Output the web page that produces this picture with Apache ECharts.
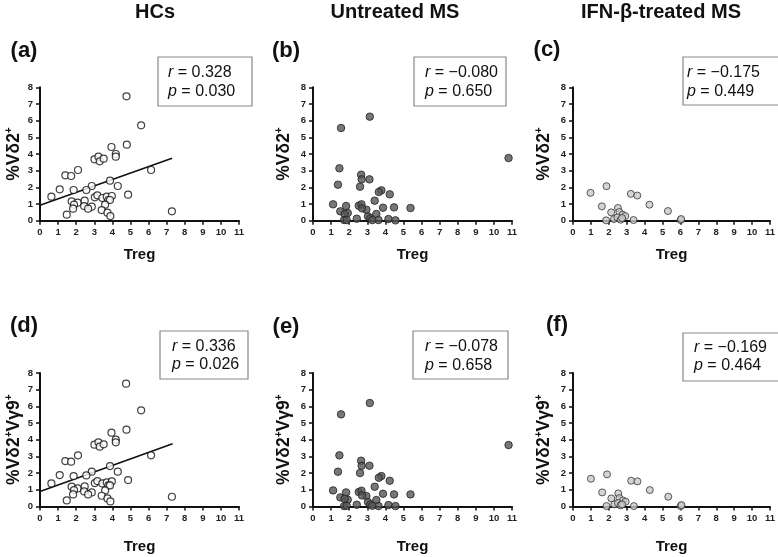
<!DOCTYPE html>
<html><head><meta charset="utf-8">
<script src="https://cdn.jsdelivr.net/npm/echarts@6/dist/echarts.min.js"></script>
<style>html,body{margin:0;padding:0;background:#fff}#c{width:778px;height:557px}</style>
</head><body><div id="c"></div>
<script>
// ---- data ----
const xTicks = [0,1,2,3,4,5,6,7,8,9,10,11];
const yTicks = [0,1,2,3,4,5,6,7,8];
const groups = ['HCs', 'Untreated MS', 'IFN-β-treated MS'];
const panelLabels = ['(a)','(b)','(c)','(d)','(e)','(f)'];

// (a) HCs: Treg vs %Vδ2+
const aTreg = [4.78,5.59,4.80,3.95,4.19,4.19,3.01,3.23,3.30,3.52,6.14,2.10,1.40,1.72,3.87,1.09,1.86,2.86,2.56,4.30,0.63,4.87,3.03,3.17,3.45,3.69,3.97,3.78,3.87,1.75,2.08,2.47,1.88,2.44,2.86,2.66,1.83,3.60,3.41,3.73,3.89,1.48,7.29];
const aVd2 = [7.46,5.72,4.56,4.42,4.00,3.84,3.68,3.84,3.56,3.72,3.04,3.04,2.72,2.68,2.40,1.88,1.84,2.08,1.84,2.08,1.44,1.56,1.40,1.52,1.36,1.44,1.48,1.24,1.24,1.16,1.08,1.20,0.96,0.88,0.84,0.72,0.72,0.96,0.64,0.48,0.28,0.36,0.56];
const aFitX = [0, 7.3];
const aFitY = [0.92, 3.74];

// (b) Untreated MS: Treg vs %Vδ2+
const bTreg = [3.14,1.55,10.81,1.46,1.38,2.66,2.69,3.12,2.60,3.78,3.64,4.24,3.41,1.11,2.53,2.68,1.83,3.87,4.48,5.39,2.95,2.71,1.51,1.92,1.75,3.50,3.04,3.17,2.42,1.72,1.86,3.62,4.17,4.56,3.28];
const bVd2 = [6.24,5.56,3.76,3.14,2.16,2.76,2.48,2.48,2.04,1.82,1.72,1.58,1.20,0.98,0.90,0.98,0.88,0.78,0.80,0.76,0.66,0.74,0.56,0.46,0.40,0.40,0.26,0.14,0.12,0.04,0.04,0.04,0.10,0.02,0.04];

// (c) IFN-β-treated MS: Treg vs %Vδ2+
const cTreg = [0.98,1.87,3.23,3.59,4.27,1.61,5.30,2.13,2.51,2.59,2.77,2.92,2.29,2.48,2.66,1.85,3.38,6.01,6.04,2.74];
const cVd2 = [1.67,2.07,1.61,1.51,0.96,0.86,0.58,0.50,0.76,0.52,0.36,0.28,0.10,0.20,0.06,0.02,0.04,0.04,0.10,0.16];

// (d) HCs: Treg vs %Vδ2+Vγ9+
const dTreg = [4.76,5.59,4.78,3.95,4.19,4.19,3.01,3.23,3.30,3.52,6.14,2.10,1.40,1.72,3.87,1.09,1.86,2.86,2.56,4.30,0.63,4.87,3.03,3.17,3.45,3.69,3.97,3.78,3.87,1.75,2.08,2.47,1.88,2.44,2.86,2.66,1.83,3.60,3.41,3.73,3.89,1.48,7.29];
const dVd2Vg9 = [7.36,5.76,4.60,4.42,4.00,3.84,3.70,3.84,3.58,3.72,3.06,3.06,2.72,2.68,2.42,1.88,1.82,2.08,1.86,2.08,1.38,1.58,1.40,1.52,1.38,1.44,1.50,1.26,1.26,1.18,1.08,1.20,0.98,0.90,0.84,0.72,0.72,0.96,0.64,0.48,0.30,0.36,0.58];
const dFitX = [0, 7.33];
const dFitY = [0.90, 3.76];

// (e) Untreated MS: Treg vs %Vδ2+Vγ9+
const eTreg = [3.14,1.55,10.81,1.46,1.38,2.66,2.69,3.12,2.60,3.78,3.64,4.24,3.41,1.11,2.53,2.68,1.83,3.87,4.48,5.39,2.95,2.71,1.51,1.92,1.75,3.50,3.04,3.17,2.42,1.72,1.86,3.62,4.17,4.56,3.28];
const eVd2Vg9 = [6.20,5.52,3.68,3.06,2.08,2.74,2.44,2.44,2.00,1.82,1.72,1.54,1.18,0.96,0.86,0.94,0.84,0.76,0.72,0.72,0.62,0.66,0.54,0.40,0.46,0.38,0.26,0.12,0.10,0.02,0.04,0.02,0.08,0.02,0.04];

// (f) IFN-β-treated MS: Treg vs %Vδ2+Vγ9+
const fTreg = [1.00,1.90,3.25,3.60,4.29,1.63,5.32,2.14,2.53,2.59,2.79,2.94,2.31,2.51,2.66,1.87,3.40,6.01,6.06,2.74];
const fVd2Vg9 = [1.66,1.92,1.54,1.50,0.98,0.84,0.58,0.48,0.78,0.50,0.36,0.28,0.12,0.20,0.06,0.02,0.02,0.02,0.08,0.12];

const rValues = ['0.328', '−0.080', '−0.175', '0.336', '−0.078', '−0.169'];
const pValues = ['0.030', '0.650', '0.449', '0.026', '0.658', '0.464'];

// ---- layout / style ----
const FONT = "'Liberation Sans', Arial, sans-serif";
const colLeft = [40, 313, 573];
const rowTop = [87.3, 373];
const GW = 199, GH = 133.4;
const zip = (xs, ys) => xs.map((x, i) => [x, ys[i]]);

const panels = [
  {x: aTreg, y: aVd2, fit: [aFitX, aFitY], kind: 0, row: 0},
  {x: bTreg, y: bVd2, kind: 1, row: 0},
  {x: cTreg, y: cVd2, kind: 2, row: 0},
  {x: dTreg, y: dVd2Vg9, fit: [dFitX, dFitY], kind: 0, row: 1},
  {x: eTreg, y: eVd2Vg9, kind: 1, row: 1},
  {x: fTreg, y: fVd2Vg9, kind: 2, row: 1}
];
const markerStyle = [
  {color: '#ffffff', borderColor: '#111', borderWidth: 1.2},
  {color: '#555555', borderColor: '#222', borderWidth: 1},
  {color: '#c9c9c9', borderColor: '#333', borderWidth: 1}
];
const yNames = ['{m|%Vδ2}{s|+}', '{m|%Vδ2}{s|+}{m|Vγ9}{s|+}'];

const grid = [], xAxis = [], yAxis = [], series = [];
panels.forEach((p, i) => {
  const col = i % 3;
  grid.push({left: colLeft[col], top: rowTop[p.row], width: GW, height: GH});
  xAxis.push({
    type: 'value', gridIndex: i, min: xTicks[0], max: xTicks[xTicks.length-1], interval: 1,
    name: 'Treg', nameLocation: 'middle', nameGap: p.row === 0 ? 27 : 33,
    nameTextStyle: {fontFamily: FONT, fontWeight: 'bold', fontSize: 15, color: '#111'},
    axisLine: {show: true, onZero: false, lineStyle: {color: '#111', width: 2}},
    axisTick: {show: true, length: 4, lineStyle: {color: '#111', width: 1.5}},
    axisLabel: {fontFamily: FONT, fontWeight: 'bold', fontSize: 9.5, color: '#222', margin: 7},
    splitLine: {show: false}
  });
  yAxis.push({
    type: 'value', gridIndex: i, min: yTicks[0], max: yTicks[yTicks.length-1], interval: 1,
    name: yNames[p.row], nameLocation: 'middle', nameRotate: 90,
    nameGap: col === 0 ? 16 : 19,
    nameTextStyle: {fontFamily: FONT, color: '#111',
      rich: {
        m: {fontFamily: FONT, fontWeight: 'bold', fontSize: 17.5, color: '#111', lineHeight: 20},
        s: {fontFamily: FONT, fontWeight: 'bold', fontSize: 10, color: '#111', lineHeight: 20, verticalAlign: 'top'}
      }},
    axisLine: {show: true, onZero: false, lineStyle: {color: '#111', width: 2}},
    axisTick: {show: true, length: 4, lineStyle: {color: '#111', width: 1.5}},
    axisLabel: {fontFamily: FONT, fontWeight: 'bold', fontSize: 9.5, color: '#222', margin: 7},
    splitLine: {show: false}
  });
  series.push({
    type: 'scatter', xAxisIndex: i, yAxisIndex: i, symbol: 'circle',
    symbolSize: p.kind === 1 ? 7.5 : 7,
    itemStyle: markerStyle[p.kind], data: zip(p.x, p.y), z: 3, silent: true
  });
  if (p.fit) {
    series.push({
      type: 'line', xAxisIndex: i, yAxisIndex: i, symbol: 'none',
      lineStyle: {color: '#111', width: 1.6}, data: zip(p.fit[0], p.fit[1]), z: 2, silent: true
    });
  }
});

// annotations (titles, panel letters, stat boxes)
const graphic = [];
const titleCenters = [[155, 12], [395, 12], [661, 12]];
groups.forEach((g, k) => graphic.push({
  type: 'text', x: titleCenters[k][0], y: titleCenters[k][1],
  style: {text: g, font: `bold 20px ${FONT}`, fill: '#111', align: 'center', verticalAlign: 'middle'}
}));
const letterPos = [[24,51],[286,51],[547,50],[24,326],[286,327],[557,325]];
panelLabels.forEach((t, k) => graphic.push({
  type: 'text', x: letterPos[k][0], y: letterPos[k][1],
  style: {text: t, font: `bold 22px ${FONT}`, fill: '#111', align: 'center', verticalAlign: 'middle'}
}));
const boxes = [
  {x:158, y:57, w:94, h:49, tx:168, l1:73, l2:92},
  {x:414, y:57, w:92, h:49, tx:425, l1:73, l2:92},
  {x:683, y:57, w:100, h:48, tx:687, l1:72.7, l2:91.7},
  {x:160, y:331, w:88, h:48, tx:172, l1:346.7, l2:365},
  {x:413, y:331, w:95, h:48, tx:425, l1:346.7, l2:366},
  {x:683, y:333, w:100, h:48, tx:694, l1:347.7, l2:366}
];
const statRich = {
  i: {fontFamily: FONT, fontStyle: 'italic', fontSize: 16, fill: '#111'},
  n: {fontFamily: FONT, fontSize: 16, fill: '#111'}
};
boxes.forEach((b, k) => {
  graphic.push({type: 'rect', shape: {x: b.x, y: b.y, width: b.w, height: b.h},
    style: {fill: '#fff', stroke: '#888', lineWidth: 1.2}, z: 10});
  graphic.push({type: 'text', x: b.tx, y: b.l1, z: 11,
    style: {text: `{i|r}{n| = ${rValues[k]}}`, rich: statRich, verticalAlign: 'middle', align: 'left'}});
  graphic.push({type: 'text', x: b.tx, y: b.l2, z: 11,
    style: {text: `{i|p}{n| = ${pValues[k]}}`, rich: statRich, verticalAlign: 'middle', align: 'left'}});
});

const chart = echarts.init(document.getElementById('c'), null, {renderer: 'canvas'});
chart.setOption({
  animation: false, backgroundColor: '#fff',
  grid, xAxis, yAxis, series, graphic
});
</script>
</body></html>
